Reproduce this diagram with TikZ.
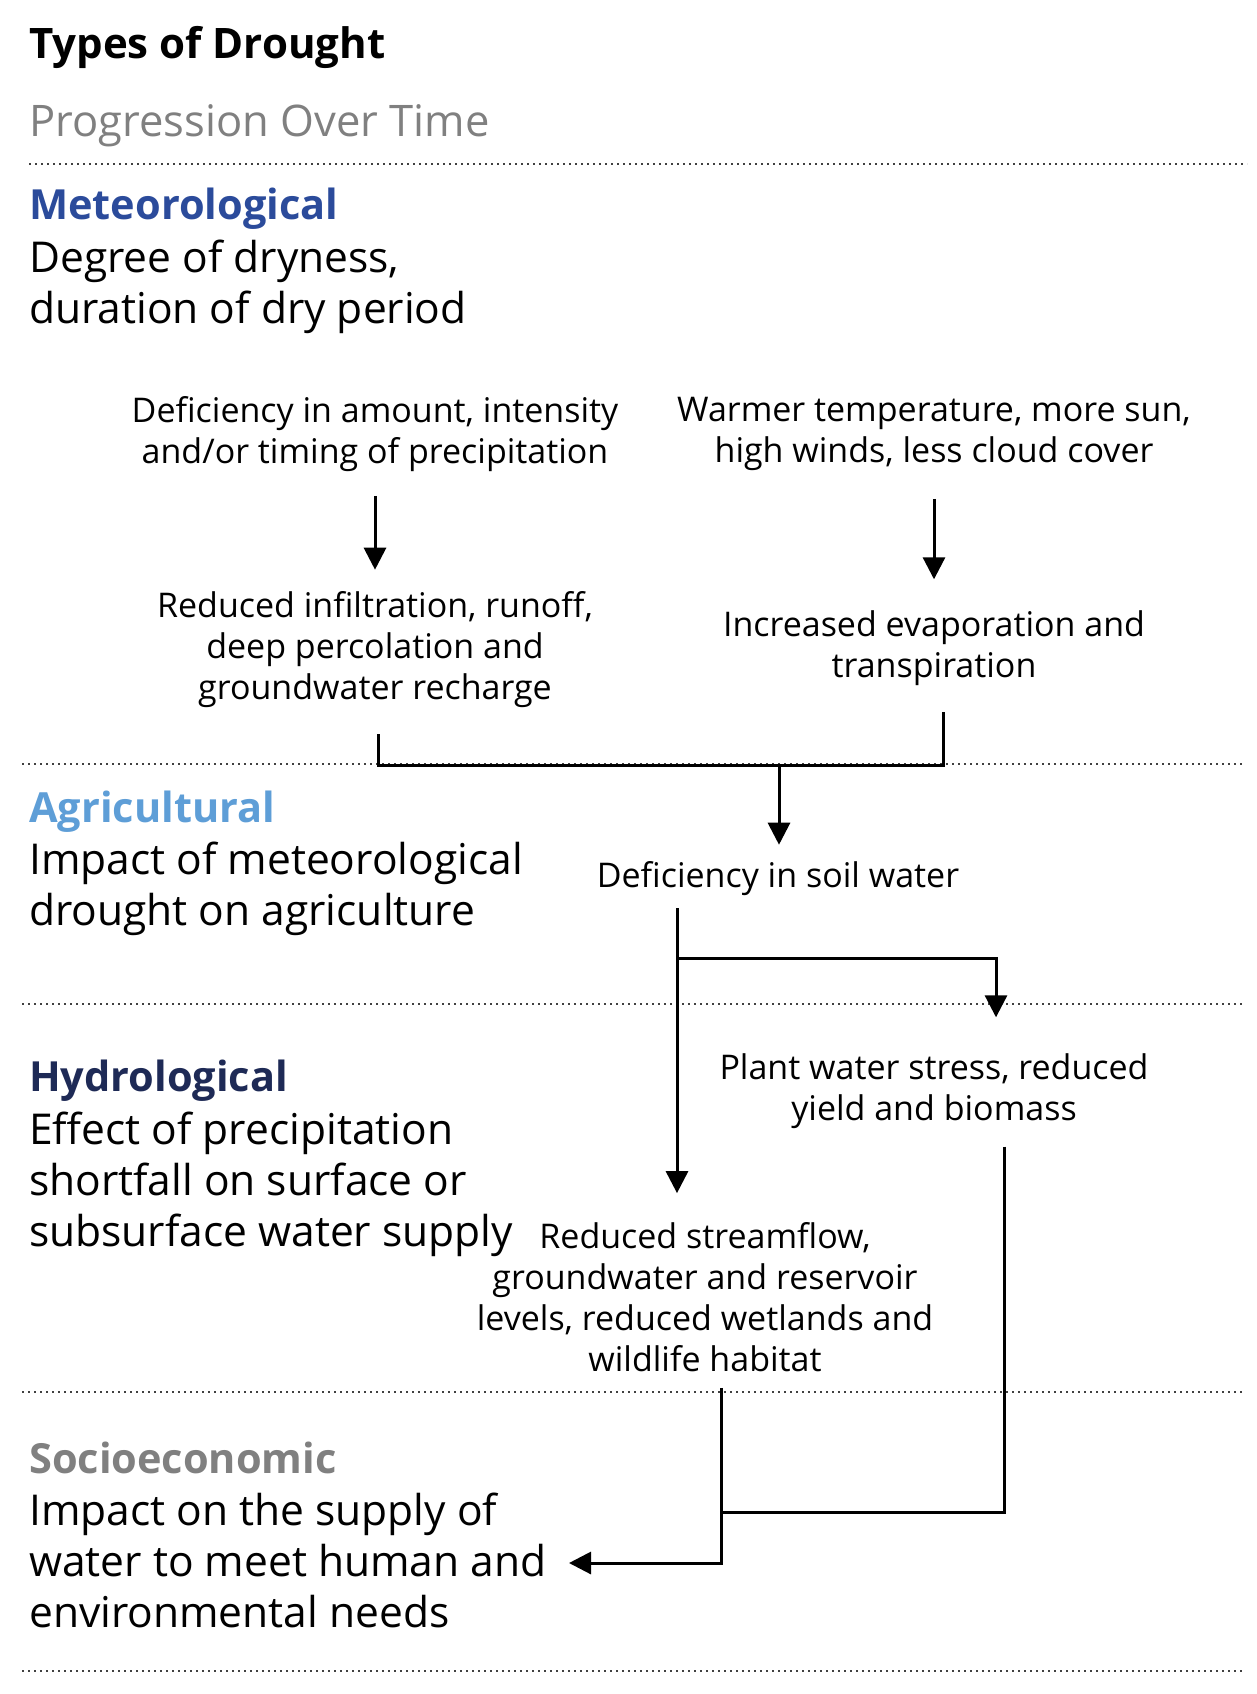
\documentclass[tikz,border=0pt]{standalone}
\usepackage{fontspec}
\setmainfont{Open Sans}
\usetikzlibrary{arrows.meta,positioning,calc}
\definecolor{meteo}{RGB}{43, 75, 155}
\definecolor{agri}{RGB}{94, 158, 215}
\definecolor{hydro}{RGB}{30, 42, 86}
\definecolor{socio}{RGB}{128, 128, 128}
\tikzset{
  head/.style={anchor=west, inner sep=0pt, yshift=-4pt, font=\bfseries\fontsize{41.5}{46}\selectfont},
  desc/.style={anchor=west, align=left, inner sep=0pt, yshift=-4pt, font=\fontsize{42.5}{51}\selectfont},
  stepbox/.style={align=center, inner sep=0pt, yshift=-4pt, font=\fontsize{34}{41}\selectfont},
  sep/.style={line width=1.8pt, dash pattern=on 2.4pt off 3.6pt, draw=black!75},
  ln/.style={line width=3pt},
  arr/.style={-{Triangle[width=22pt,length=22pt]}, line width=3pt}
}
\begin{document}
\begin{tikzpicture}[x=1pt,y=-1pt]
\useasboundingbox (0,0) rectangle (1256,1694);

% title
\node[head, font=\bfseries\fontsize{42}{46}\selectfont] (title) at (29,43) {Types of Drought};
\node[desc, font=\fontsize{43.5}{51}\selectfont, text=socio] (sub) at (29,122) {Progression Over Time};

% separators
\draw[sep] (29,164) -- (1247,164);
\draw[sep] (22,764) -- (1245,764);
\draw[sep] (22,1004) -- (1245,1004);
\draw[sep] (22,1392) -- (1245,1392);
\draw[sep] (22,1671) -- (1245,1671);

% drought types
\node[head, text=meteo] (met) at (29,205) {Meteorological};
\node[desc] (metd) at (29,283) {Degree of dryness,\\duration of dry period};
\node[head, text=agri] (agr) at (29,808) {Agricultural};
\node[desc] (agrd) at (29,885) {Impact of meteorological\\drought on agriculture};
\node[head, text=hydro] (hyd) at (29,1077) {Hydrological};
\node[desc] (hydd) at (29,1180) {Effect of precipitation\\shortfall on surface or\\subsurface water supply};
\node[head, text=socio] (soc) at (29,1454) {Socioeconomic};
\node[desc] (socd) at (29,1556) {Impact on the supply of\\water to meet human and\\environmental needs};

% chain
\node[stepbox] (prec) at (375,430) {Deficiency in amount, intensity\\and/or timing of precipitation};
\node[stepbox] (warm) at (934,430) {Warmer temperature, more sun,\\high winds, less cloud cover};
\node[stepbox] (red) at (375,646) {Reduced infiltration, runoff,\\deep percolation and\\groundwater recharge};
\node[stepbox] (evap) at (934,644) {Increased evaporation and\\transpiration};
\node[stepbox] (soil) at (778,875) {Deficiency in soil water};
\node[stepbox] (plant) at (934,1087) {Plant water stress, reduced\\yield and biomass};
\node[stepbox] (stream) at (705,1293) {Reduced streamflow,\\groundwater and reservoir\\levels, reduced wetlands and\\wildlife habitat};

\coordinate (jl) at (378,765);
\coordinate (jm) at (779,765);
\coordinate (jr) at (943,765);
\coordinate (sb) at (677,958);
\coordinate (pb) at (996,958);
\coordinate (pc) at (1004,1512);
\coordinate (sj) at (721,1512);
\coordinate (sc) at (721,1563);
\coordinate (sa) at (569,1563);

\draw[arr, shorten <=24pt, shorten >=22pt] (prec.south) -- (red.north);
\draw[arr, shorten <=28pt, shorten >=31pt] (warm.south -| evap.north) -- (evap.north);
\draw[ln, shorten <=26pt, shorten >=26pt] (red.south -| jl) -- (jl) -- (jr) -- (evap.south -| jr);
\draw[arr, shorten >=17pt] (jm) -- (jm |- soil.north);
\draw[arr, shorten <=12pt, shorten >=29pt] (soil.south -| sb) -- (stream.north -| sb);
\draw[arr, shorten >=36pt] (sb) -- (pb) -- (pb |- plant.north);
\draw[ln, shorten <=18pt] (plant.south -| pc) -- (pc) -- (sj);
\draw[arr, shorten <=16pt] (stream.south -| sc) -- (sc) -- (sa);
\end{tikzpicture}
\end{document}
